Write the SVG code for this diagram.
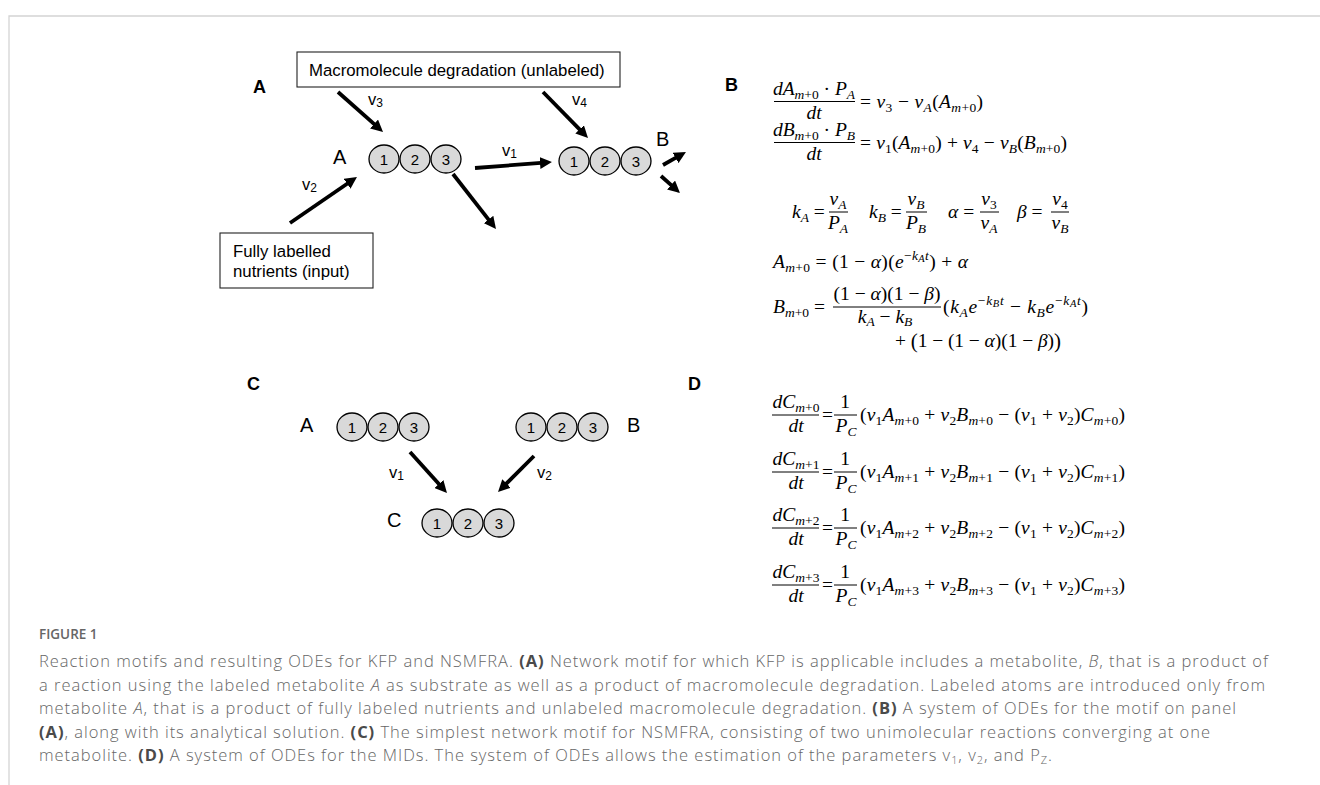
<svg xmlns="http://www.w3.org/2000/svg" width="1320" height="785" viewBox="0 0 1320 785">
<style>
.frame{stroke:#d4d4d4;stroke-width:1.3;fill:none}
.plabel{font-family:"Liberation Sans",Arial,sans-serif;font-weight:bold;font-size:18px;fill:#000}
.box{fill:#fff;stroke:#222;stroke-width:1.1}
.boxt{font-family:"Liberation Sans",Arial,sans-serif;font-size:16.8px;fill:#000}
.atom{fill:#d9d9d9;stroke:#000;stroke-width:1.3}
.num{font-family:"Liberation Sans",Arial,sans-serif;font-size:15px;fill:#000;text-anchor:middle}
.met{font-family:"Liberation Sans",Arial,sans-serif;font-size:20px;fill:#000}
.vl{font-family:"Liberation Sans",Arial,sans-serif;font-size:16.5px;fill:#000}
.vs{font-size:12px}
.arr{stroke:#000;stroke-width:3.8;fill:none;marker-end:url(#ah)}
.m{font-family:"Liberation Serif","Times New Roman",serif;font-size:19.5px;fill:#000}
.mc{text-anchor:middle}
.i{font-style:italic}
.s{font-size:13.5px}
.ss{font-size:10.5px}
.bar{stroke:#000;stroke-width:1}
.cap{font-family:"Open Sans","Noto Sans",sans-serif;font-size:16.5px;font-weight:300;fill:#666}
.capb{font-weight:bold;fill:#4a4a4a}
.fig{font-family:"Open Sans","Noto Sans",sans-serif;font-size:13.5px;fill:#666;font-weight:600}
</style>
<defs>
<marker id="ah" markerUnits="userSpaceOnUse" viewBox="0 0 12 12" markerWidth="12" markerHeight="12" refX="1" refY="6" orient="auto">
<path d="M0,0 L12,6 L0,12 z" fill="#000"/>
</marker>
</defs>
<rect width="1320" height="785" fill="#fff"/>
<path class="frame" d="M9,785 L9,16 L1320,16"/>

<g id="panel-labels">
<text class="plabel" x="253" y="93">A</text>
<text class="plabel" x="725" y="91">B</text>
<text class="plabel" x="247" y="390">C</text>
<text class="plabel" x="688" y="390">D</text>
</g>

<!-- Panel A -->
<g id="node-macro">
<rect class="box" x="297" y="52" width="323" height="35"/>
<text class="boxt" x="309" y="76">Macromolecule degradation (unlabeled)</text>
</g>
<g id="node-nutrients">
<rect class="box" x="220" y="233" width="153" height="55"/>
<text class="boxt" x="233" y="257">Fully labelled</text>
<text class="boxt" x="233" y="277">nutrients (input)</text>
</g>
<g id="node-A">
<text class="met" x="333" y="164">A</text>
<ellipse class="atom" cx="384" cy="159" rx="15" ry="14"/>
<ellipse class="atom" cx="415" cy="159" rx="15" ry="14"/>
<ellipse class="atom" cx="446" cy="159" rx="15" ry="14"/>
<text class="num" x="384" y="164.5">1</text>
<text class="num" x="415" y="164.5">2</text>
<text class="num" x="446" y="164.5">3</text>
</g>
<g id="node-B">
<text class="met" x="656" y="146">B</text>
<ellipse class="atom" cx="574" cy="161" rx="15" ry="14"/>
<ellipse class="atom" cx="605" cy="161" rx="15" ry="14"/>
<ellipse class="atom" cx="636" cy="161" rx="15" ry="14"/>
<text class="num" x="574" y="166.5">1</text>
<text class="num" x="605" y="166.5">2</text>
<text class="num" x="636" y="166.5">3</text>
</g>

<!-- Panel C -->
<g id="node-C-A">
<text class="met" x="300" y="432">A</text>
<ellipse class="atom" cx="352" cy="427" rx="15" ry="14"/>
<ellipse class="atom" cx="383" cy="427" rx="15" ry="14"/>
<ellipse class="atom" cx="414" cy="427" rx="15" ry="14"/>
<text class="num" x="352" y="432.5">1</text>
<text class="num" x="383" y="432.5">2</text>
<text class="num" x="414" y="432.5">3</text>
</g>
<g id="node-C-B">
<text class="met" x="627" y="432">B</text>
<ellipse class="atom" cx="531" cy="427" rx="15" ry="14"/>
<ellipse class="atom" cx="562" cy="427" rx="15" ry="14"/>
<ellipse class="atom" cx="593" cy="427" rx="15" ry="14"/>
<text class="num" x="531" y="432.5">1</text>
<text class="num" x="562" y="432.5">2</text>
<text class="num" x="593" y="432.5">3</text>
</g>
<g id="node-C-C">
<text class="met" x="387" y="527">C</text>
<ellipse class="atom" cx="437" cy="523" rx="15" ry="14"/>
<ellipse class="atom" cx="468" cy="523" rx="15" ry="14"/>
<ellipse class="atom" cx="499" cy="523" rx="15" ry="14"/>
<text class="num" x="437" y="528.5">1</text>
<text class="num" x="468" y="528.5">2</text>
<text class="num" x="499" y="528.5">3</text>
</g>

<g id="connectors">
<path class="arr" d="M338,92 L374.8,124.7"/>
<path class="arr" d="M543,92 L580.3,130.1"/>
<path class="arr" d="M290,223 L347.9,183.2"/>
<path class="arr" d="M475,168 L541,162.9"/>
<path class="arr" d="M453,174 L489.2,220.3"/>
<path class="arr" d="M663,165 L676.4,157.4"/>
<path class="arr" d="M661,176 L671.8,185.7"/>
<path class="arr" d="M410,452 L439.6,484.8"/>
<path class="arr" d="M534,456 L505.8,484.2"/>
<text class="vl" x="368" y="105">v<tspan class="vs" dy="2">3</tspan></text>
<text class="vl" x="572" y="105">v<tspan class="vs" dy="2">4</tspan></text>
<text class="vl" x="502" y="156">v<tspan class="vs" dy="2">1</tspan></text>
<text class="vl" x="302" y="190">v<tspan class="vs" dy="2">2</tspan></text>
<text class="vl" x="389" y="478">v<tspan class="vs" dy="2">1</tspan></text>
<text class="vl" x="537" y="478">v<tspan class="vs" dy="2">2</tspan></text>
</g>

<!-- Panel B equations -->
<g id="eqB1">
<text class="m mc" x="814" y="95"><tspan class="i">dA</tspan><tspan class="s" dy="4"><tspan class="i">m</tspan>+0</tspan><tspan dy="-4"> · </tspan><tspan class="i">P</tspan><tspan class="s i" dy="4">A</tspan></text>
<line class="bar" x1="774" y1="101.5" x2="855" y2="101.5"/>
<text class="m mc i" x="814" y="119">dt</text>
<text class="m" x="860" y="108" textLength="123" lengthAdjust="spacing">=  <tspan class="i">v</tspan><tspan class="s" dy="4">3</tspan><tspan dy="-4"> − </tspan><tspan class="i">v</tspan><tspan class="s i" dy="4">A</tspan><tspan dy="-4">(</tspan><tspan class="i">A</tspan><tspan class="s" dy="4"><tspan class="i">m</tspan>+0</tspan><tspan dy="-4">)</tspan></text>
</g>
<g id="eqB2">
<text class="m mc" x="814" y="136"><tspan class="i">dB</tspan><tspan class="s" dy="4"><tspan class="i">m</tspan>+0</tspan><tspan dy="-4"> · </tspan><tspan class="i">P</tspan><tspan class="s i" dy="4">B</tspan></text>
<line class="bar" x1="774" y1="142.5" x2="855" y2="142.5"/>
<text class="m mc i" x="814" y="160">dt</text>
<text class="m" x="860" y="149" textLength="207" lengthAdjust="spacing">= <tspan class="i">v</tspan><tspan class="s" dy="4">1</tspan><tspan dy="-4">(</tspan><tspan class="i">A</tspan><tspan class="s" dy="4"><tspan class="i">m</tspan>+0</tspan><tspan dy="-4">) + </tspan><tspan class="i">v</tspan><tspan class="s" dy="4">4</tspan><tspan dy="-4"> − </tspan><tspan class="i">v</tspan><tspan class="s i" dy="4">B</tspan><tspan dy="-4">(</tspan><tspan class="i">B</tspan><tspan class="s" dy="4"><tspan class="i">m</tspan>+0</tspan><tspan dy="-4">)</tspan></text>
</g>
<g id="eqB3">
<text class="m" x="792" y="218"><tspan class="i">k</tspan><tspan class="s i" dy="4">A</tspan><tspan dy="-4"> =</tspan></text>
<text class="m mc" x="838" y="205"><tspan class="i">v</tspan><tspan class="s i" dy="4">A</tspan></text>
<line class="bar" x1="829" y1="212" x2="848" y2="212"/>
<text class="m mc" x="838" y="229"><tspan class="i">P</tspan><tspan class="s i" dy="4">A</tspan></text>
<text class="m" x="869" y="218"><tspan class="i">k</tspan><tspan class="s i" dy="4">B</tspan><tspan dy="-4"> =</tspan></text>
<text class="m mc" x="916" y="205"><tspan class="i">v</tspan><tspan class="s i" dy="4">B</tspan></text>
<line class="bar" x1="906" y1="212" x2="927" y2="212"/>
<text class="m mc" x="916" y="229"><tspan class="i">P</tspan><tspan class="s i" dy="4">B</tspan></text>
<text class="m" x="948" y="218"><tspan class="i">α</tspan> =</text>
<text class="m mc" x="989" y="205"><tspan class="i">v</tspan><tspan class="s" dy="4">3</tspan></text>
<line class="bar" x1="980" y1="212" x2="999" y2="212"/>
<text class="m mc" x="989" y="229"><tspan class="i">v</tspan><tspan class="s i" dy="4">A</tspan></text>
<text class="m" x="1017" y="218"><tspan class="i">β</tspan> =</text>
<text class="m mc" x="1060" y="205"><tspan class="i">v</tspan><tspan class="s" dy="4">4</tspan></text>
<line class="bar" x1="1051" y1="212" x2="1069" y2="212"/>
<text class="m mc" x="1060" y="229"><tspan class="i">v</tspan><tspan class="s i" dy="4">B</tspan></text>
</g>
<g id="eqB4">
<text class="m" x="773" y="268" textLength="195" lengthAdjust="spacing"><tspan class="i">A</tspan><tspan class="s" dy="4"><tspan class="i">m</tspan>+0</tspan><tspan dy="-4"> = (1 − </tspan><tspan class="i">α</tspan>)(<tspan class="i">e</tspan><tspan class="s" dy="-8">−<tspan class="i">k</tspan><tspan class="ss i" dy="2">A</tspan><tspan class="i" dy="-2">t</tspan></tspan><tspan dy="8">) + </tspan><tspan class="i">α</tspan></text>
</g>
<g id="eqB5">
<text class="m" x="773" y="313"><tspan class="i">B</tspan><tspan class="s" dy="4"><tspan class="i">m</tspan>+0</tspan><tspan dy="-4"> =</tspan></text>
<text class="m mc" x="887" y="300">(1 − <tspan class="i">α</tspan>)(1 − <tspan class="i">β</tspan>)</text>
<line class="bar" x1="833" y1="307" x2="941" y2="307"/>
<text class="m mc" x="885" y="323"><tspan class="i">k</tspan><tspan class="s i" dy="3">A</tspan><tspan dy="-3"> − </tspan><tspan class="i">k</tspan><tspan class="s i" dy="3">B</tspan></text>
<text class="m" x="943" y="313" textLength="145" lengthAdjust="spacing">(<tspan class="i">k</tspan><tspan class="s i" dy="4">A</tspan><tspan class="i" dy="-4">e</tspan><tspan class="s" dy="-8">−<tspan class="i">k</tspan><tspan class="ss i" dy="2">B</tspan><tspan class="i" dy="-2">t</tspan></tspan><tspan dy="8"> − </tspan><tspan class="i">k</tspan><tspan class="s i" dy="4">B</tspan><tspan class="i" dy="-4">e</tspan><tspan class="s" dy="-8">−<tspan class="i">k</tspan><tspan class="ss i" dy="2">A</tspan><tspan class="i" dy="-2">t</tspan></tspan><tspan dy="8">)</tspan></text>
<text class="m" x="895" y="347" textLength="166" lengthAdjust="spacing">+ <tspan font-size="21px" dy="1">(</tspan><tspan dy="-1">1 − (1 − </tspan><tspan class="i">α</tspan>)(1 − <tspan class="i">β</tspan>)<tspan font-size="21px" dy="1">)</tspan></text>
</g>

<!-- Panel D equations -->
<g id="eqD1">
<text class="m mc" x="796" y="408"><tspan class="i">dC</tspan><tspan class="s" dy="4"><tspan class="i">m</tspan>+0</tspan></text>
<line class="bar" x1="772" y1="415" x2="819" y2="415"/>
<text class="m mc i" x="796" y="432">dt</text>
<text class="m" x="822" y="421">=</text>
<text class="m mc" x="845" y="408">1</text>
<line class="bar" x1="834" y1="415" x2="857" y2="415"/>
<text class="m mc" x="846" y="432"><tspan class="i">P</tspan><tspan class="s i" dy="4">C</tspan></text>
<text class="m" x="860" y="421" textLength="265" lengthAdjust="spacing">(<tspan class="i">v</tspan><tspan class="s" dy="4">1</tspan><tspan class="i" dy="-4">A</tspan><tspan class="s" dy="4"><tspan class="i">m</tspan>+0</tspan><tspan dy="-4"> + </tspan><tspan class="i">v</tspan><tspan class="s" dy="4">2</tspan><tspan class="i" dy="-4">B</tspan><tspan class="s" dy="4"><tspan class="i">m</tspan>+0</tspan><tspan dy="-4"> − (</tspan><tspan class="i">v</tspan><tspan class="s" dy="4">1</tspan><tspan dy="-4"> + </tspan><tspan class="i">v</tspan><tspan class="s" dy="4">2</tspan><tspan dy="-4">)</tspan><tspan class="i">C</tspan><tspan class="s" dy="4"><tspan class="i">m</tspan>+0</tspan><tspan dy="-4">)</tspan></text>
</g>
<g id="eqD2">
<text class="m mc" x="796" y="465"><tspan class="i">dC</tspan><tspan class="s" dy="4"><tspan class="i">m</tspan>+1</tspan></text>
<line class="bar" x1="772" y1="472" x2="819" y2="472"/>
<text class="m mc i" x="796" y="489">dt</text>
<text class="m" x="822" y="478">=</text>
<text class="m mc" x="845" y="465">1</text>
<line class="bar" x1="834" y1="472" x2="857" y2="472"/>
<text class="m mc" x="846" y="489"><tspan class="i">P</tspan><tspan class="s i" dy="4">C</tspan></text>
<text class="m" x="860" y="478" textLength="265" lengthAdjust="spacing">(<tspan class="i">v</tspan><tspan class="s" dy="4">1</tspan><tspan class="i" dy="-4">A</tspan><tspan class="s" dy="4"><tspan class="i">m</tspan>+1</tspan><tspan dy="-4"> + </tspan><tspan class="i">v</tspan><tspan class="s" dy="4">2</tspan><tspan class="i" dy="-4">B</tspan><tspan class="s" dy="4"><tspan class="i">m</tspan>+1</tspan><tspan dy="-4"> − (</tspan><tspan class="i">v</tspan><tspan class="s" dy="4">1</tspan><tspan dy="-4"> + </tspan><tspan class="i">v</tspan><tspan class="s" dy="4">2</tspan><tspan dy="-4">)</tspan><tspan class="i">C</tspan><tspan class="s" dy="4"><tspan class="i">m</tspan>+1</tspan><tspan dy="-4">)</tspan></text>
</g>
<g id="eqD3">
<text class="m mc" x="796" y="521"><tspan class="i">dC</tspan><tspan class="s" dy="4"><tspan class="i">m</tspan>+2</tspan></text>
<line class="bar" x1="772" y1="528" x2="819" y2="528"/>
<text class="m mc i" x="796" y="545">dt</text>
<text class="m" x="822" y="534">=</text>
<text class="m mc" x="845" y="521">1</text>
<line class="bar" x1="834" y1="528" x2="857" y2="528"/>
<text class="m mc" x="846" y="545"><tspan class="i">P</tspan><tspan class="s i" dy="4">C</tspan></text>
<text class="m" x="860" y="534" textLength="265" lengthAdjust="spacing">(<tspan class="i">v</tspan><tspan class="s" dy="4">1</tspan><tspan class="i" dy="-4">A</tspan><tspan class="s" dy="4"><tspan class="i">m</tspan>+2</tspan><tspan dy="-4"> + </tspan><tspan class="i">v</tspan><tspan class="s" dy="4">2</tspan><tspan class="i" dy="-4">B</tspan><tspan class="s" dy="4"><tspan class="i">m</tspan>+2</tspan><tspan dy="-4"> − (</tspan><tspan class="i">v</tspan><tspan class="s" dy="4">1</tspan><tspan dy="-4"> + </tspan><tspan class="i">v</tspan><tspan class="s" dy="4">2</tspan><tspan dy="-4">)</tspan><tspan class="i">C</tspan><tspan class="s" dy="4"><tspan class="i">m</tspan>+2</tspan><tspan dy="-4">)</tspan></text>
</g>
<g id="eqD4">
<text class="m mc" x="796" y="578"><tspan class="i">dC</tspan><tspan class="s" dy="4"><tspan class="i">m</tspan>+3</tspan></text>
<line class="bar" x1="772" y1="585" x2="819" y2="585"/>
<text class="m mc i" x="796" y="602">dt</text>
<text class="m" x="822" y="591">=</text>
<text class="m mc" x="845" y="578">1</text>
<line class="bar" x1="834" y1="585" x2="857" y2="585"/>
<text class="m mc" x="846" y="602"><tspan class="i">P</tspan><tspan class="s i" dy="4">C</tspan></text>
<text class="m" x="860" y="591" textLength="265" lengthAdjust="spacing">(<tspan class="i">v</tspan><tspan class="s" dy="4">1</tspan><tspan class="i" dy="-4">A</tspan><tspan class="s" dy="4"><tspan class="i">m</tspan>+3</tspan><tspan dy="-4"> + </tspan><tspan class="i">v</tspan><tspan class="s" dy="4">2</tspan><tspan class="i" dy="-4">B</tspan><tspan class="s" dy="4"><tspan class="i">m</tspan>+3</tspan><tspan dy="-4"> − (</tspan><tspan class="i">v</tspan><tspan class="s" dy="4">1</tspan><tspan dy="-4"> + </tspan><tspan class="i">v</tspan><tspan class="s" dy="4">2</tspan><tspan dy="-4">)</tspan><tspan class="i">C</tspan><tspan class="s" dy="4"><tspan class="i">m</tspan>+3</tspan><tspan dy="-4">)</tspan></text>
</g>

<!-- Caption -->
<g id="caption">
<text class="fig" x="39" y="639">FIGURE 1</text>
<text class="cap" x="39" y="667" textLength="1229" lengthAdjust="spacing">Reaction motifs and resulting ODEs for KFP and NSMFRA. <tspan class="capb">(A)</tspan> Network motif for which KFP is applicable includes a metabolite, <tspan font-style="italic">B</tspan>, that is a product of</text>
<text class="cap" x="39" y="690.5" textLength="1226" lengthAdjust="spacing">a reaction using the labeled metabolite <tspan font-style="italic">A</tspan> as substrate as well as a product of macromolecule degradation. Labeled atoms are introduced only from</text>
<text class="cap" x="39" y="714" textLength="1197" lengthAdjust="spacing">metabolite <tspan font-style="italic">A</tspan>, that is a product of fully labeled nutrients and unlabeled macromolecule degradation. <tspan class="capb">(B)</tspan> A system of ODEs for the motif on panel</text>
<text class="cap" x="39" y="737.5" textLength="1171" lengthAdjust="spacing"><tspan class="capb">(A)</tspan>, along with its analytical solution. <tspan class="capb">(C)</tspan> The simplest network motif for NSMFRA, consisting of two unimolecular reactions converging at one</text>
<text class="cap" x="39" y="761" textLength="1013" lengthAdjust="spacing">metabolite. <tspan class="capb">(D)</tspan> A system of ODEs for the MIDs. The system of ODEs allows the estimation of the parameters v<tspan font-size="11px" dy="3">1</tspan><tspan dy="-3">, v</tspan><tspan font-size="11px" dy="3">2</tspan><tspan dy="-3">, and P</tspan><tspan font-size="11px" dy="3">Z</tspan><tspan dy="-3">.</tspan></text>
</g>
</svg>
